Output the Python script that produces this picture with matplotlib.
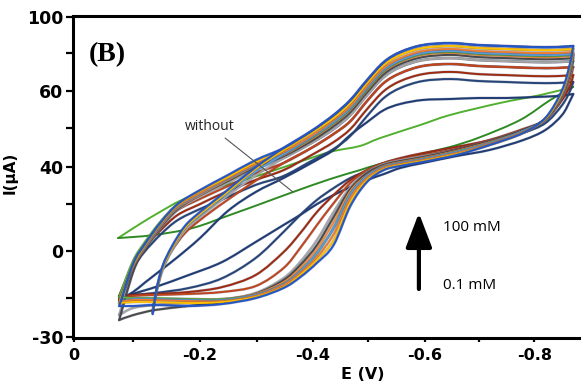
import matplotlib
matplotlib.use("Agg")
import matplotlib.pyplot as plt
from matplotlib.path import Path
from matplotlib.patches import PathPatch
import matplotlib.patheffects as pe

# ---------------- data ----------------
# potential grids (V)
E_up = [-0.055, -0.08, -0.10, -0.13, -0.16, -0.20, -0.25, -0.30, -0.35, -0.40, -0.44,
        -0.47, -0.50, -0.53, -0.56, -0.60, -0.65, -0.70, -0.75, -0.80, -0.84, -0.87]
E_low = [-0.87, -0.865, -0.85, -0.82, -0.78, -0.72, -0.66, -0.60, -0.56, -0.53, -0.50,
         -0.47, -0.44, -0.41, -0.38, -0.35, -0.30, -0.24, -0.18, -0.12, -0.08, -0.055]
E_init = [-0.115, -0.122, -0.133, -0.15, -0.173, -0.20, -0.24, -0.30, -0.35]

# currents (uA): forward / backward sweep for each concentration (0.1 mM ... 100 mM)
up_c1 = [-15.0, -11.7, -8.1, -2.8, 2.5, 10.2, 21.2, 28.9, 34.6, 40.7, 46.0, 52.1, 57.3, 62.2, 64.7, 66.3, 66.7, 67.1, 67.1, 67.5, 67.9, 68.7]
low_c1 = [68.7, 66.3, 60.2, 54.1, 50.0, 46.0, 43.5, 40.7, 38.7, 36.2, 33.8, 30.9, 27.7, 24.0, 19.6, 15.5, 8.6, 0.5, -4.8, -9.7, -12.5, -15.0]
up_c2 = [-13.7, -2.0, 4.5, 11.8, 17.5, 22.0, 26.9, 31.8, 35.4, 41.5, 46.4, 51.7, 59.8, 67.1, 71.2, 74.0, 74.8, 74.0, 73.6, 73.2, 73.2, 73.6]
low_c2 = [73.6, 70.3, 64.2, 56.9, 52.9, 48.4, 45.6, 43.1, 41.5, 39.9, 37.4, 34.6, 30.5, 25.7, 19.6, 12.7, 2.1, -6.1, -10.1, -12.1, -12.9, -13.7]
up_c3 = [-13.3, -0.3, 6.2, 13.5, 19.6, 24.0, 29.3, 33.8, 37.8, 43.9, 49.2, 54.5, 62.6, 69.9, 74.0, 76.8, 77.7, 76.8, 76.4, 76.0, 76.0, 76.4]
low_c3 = [76.4, 72.4, 66.3, 58.2, 54.1, 50.0, 47.2, 44.7, 42.7, 40.7, 37.8, 33.8, 27.7, 20.8, 12.2, 4.5, -4.8, -9.7, -11.7, -12.5, -12.9, -13.3]
up_c4 = [-14.2, 0.5, 7.4, 15.5, 21.6, 26.1, 31.3, 36.6, 40.7, 46.8, 52.5, 57.7, 65.9, 73.2, 77.2, 80.1, 80.9, 80.1, 79.7, 79.3, 79.3, 79.7]
low_c4 = [79.7, 75.2, 67.1, 58.2, 54.5, 50.0, 46.4, 43.9, 42.3, 40.7, 37.8, 32.6, 24.4, 15.5, 6.2, -2.0, -9.3, -11.7, -12.5, -12.9, -13.3, -14.2]
init_c4 = [-19.4, -10.9, -2.0, 5.3, 12.2, 17.5, 24.2, 33.5, 40.7]
up_c5 = [-21.1, -2.8, 5.3, 14.3, 21.6, 26.9, 32.6, 38.2, 42.7, 48.8, 54.5, 60.2, 68.3, 75.6, 79.7, 82.5, 83.3, 82.5, 82.1, 81.7, 81.7, 82.1]
low_c5 = [82.1, 76.8, 67.5, 58.2, 54.1, 49.6, 46.0, 43.5, 41.9, 40.3, 37.0, 30.9, 20.8, 9.4, 0.5, -6.1, -12.1, -15.0, -16.2, -17.0, -18.2, -21.1]
init_c5 = [-20.3, -11.7, -2.8, 5.3, 13.1, 18.8, 25.8, 35.6, 42.7]
up_c6 = [-23.1, -3.6, 5.3, 14.7, 22.0, 27.7, 33.4, 39.1, 43.5, 49.6, 55.7, 61.4, 69.5, 76.8, 80.9, 83.7, 84.6, 83.7, 83.3, 82.9, 82.9, 83.3]
low_c6 = [83.3, 77.7, 67.9, 58.6, 54.1, 49.6, 46.0, 43.1, 41.5, 39.9, 36.6, 30.1, 18.8, 7.4, -0.8, -6.9, -12.5, -15.8, -17.4, -19.0, -21.1, -23.1]
up_c7 = [-16.2, -1.6, 5.8, 15.1, 22.4, 27.7, 33.8, 39.5, 43.9, 50.4, 56.5, 62.2, 70.3, 77.7, 81.7, 84.6, 85.4, 84.6, 84.2, 83.7, 83.7, 84.2]
low_c7 = [84.2, 78.5, 68.3, 58.6, 53.7, 49.2, 45.6, 42.7, 41.1, 39.5, 35.8, 29.3, 16.7, 5.8, -2.0, -7.7, -12.5, -14.6, -14.6, -14.6, -15.0, -16.2]
up_c8 = [-13.7, 0.9, 8.2, 17.1, 24.0, 29.3, 34.6, 39.9, 44.3, 50.8, 56.9, 62.6, 70.7, 78.1, 82.1, 85.0, 85.8, 85.0, 84.6, 84.2, 84.2, 84.6]
low_c8 = [84.6, 78.9, 68.7, 58.6, 53.7, 48.8, 45.2, 42.3, 40.7, 39.1, 35.4, 28.1, 14.3, 4.1, -3.2, -8.5, -12.9, -14.6, -14.6, -14.2, -14.2, -13.7]
up_c9 = [-15.8, -1.2, 6.2, 15.5, 22.8, 28.1, 34.2, 39.9, 44.3, 51.2, 57.3, 63.0, 71.2, 78.5, 82.5, 85.4, 86.2, 85.4, 85.0, 84.6, 84.6, 85.0]
low_c9 = [85.0, 79.3, 68.7, 58.6, 53.7, 48.8, 45.2, 42.3, 40.7, 39.1, 35.4, 28.1, 14.3, 4.1, -3.2, -8.5, -12.9, -15.0, -15.0, -14.6, -14.6, -15.8]
init_c9 = [-19.8, -10.5, -1.2, 6.6, 14.3, 19.6, 26.8, 37.2, 44.3]
up_c10 = [-15.8, -1.2, 6.6, 15.9, 23.2, 28.5, 34.6, 40.3, 45.2, 51.7, 58.2, 63.8, 72.0, 79.3, 83.3, 86.2, 87.0, 86.2, 85.8, 85.4, 85.4, 85.8]
low_c10 = [85.8, 80.1, 69.1, 58.6, 53.3, 48.4, 44.7, 41.9, 40.3, 38.7, 34.6, 26.5, 11.8, 2.5, -4.0, -8.9, -13.3, -15.4, -15.4, -15.0, -15.0, -15.8]
up_c11 = [-16.2, -0.8, 7.0, 16.3, 23.6, 29.3, 35.0, 41.1, 46.0, 52.9, 59.0, 65.1, 73.2, 80.5, 84.6, 87.4, 88.2, 87.4, 87.0, 86.6, 86.6, 87.0]
low_c11 = [87.0, 80.9, 69.5, 58.6, 52.9, 48.0, 44.3, 41.5, 39.9, 38.2, 33.8, 24.9, 9.4, 1.3, -4.8, -9.7, -13.7, -15.8, -16.2, -15.8, -15.8, -16.2]
init_c11 = [-20.3, -11.3, -2.0, 6.2, 14.3, 20.0, 27.2, 38.3, 46.0]
up_c12 = [-17.4, -0.3, 7.4, 16.7, 24.0, 29.7, 35.8, 41.9, 46.8, 53.7, 60.2, 66.3, 74.4, 81.7, 85.8, 88.6, 89.4, 88.6, 88.2, 87.8, 87.8, 88.2]
low_c12 = [88.2, 81.7, 70.3, 59.0, 52.9, 48.0, 43.9, 41.1, 39.5, 37.8, 33.0, 23.2, 7.4, 0.1, -5.7, -10.1, -14.2, -16.6, -17.4, -17.0, -17.4, -17.4]
init_c12 = [-20.7, -10.9, -1.2, 7.0, 15.1, 20.8, 28.0, 39.0, 46.8]

# blank electrode ("without")
E_wo_up = [-0.053, -0.092, -0.128, -0.164, -0.205, -0.254, -0.308, -0.367, -0.434, -0.487, -0.523, -0.595, -0.649, -0.739, -0.811, -0.870]
I_wo_up = [10.2, 15.9, 20.8, 25.3, 28.9, 32.2, 35.8, 40.3, 45.2, 47.6, 50.8, 56.1, 60.2, 65.1, 68.3, 71.6]
E_wo_low = [-0.053, -0.116, -0.187, -0.254, -0.308, -0.367, -0.434, -0.487, -0.523, -0.595, -0.649, -0.703, -0.775, -0.829, -0.870]
I_wo_low = [10.2, 11.4, 14.3, 19.6, 24.0, 28.9, 34.2, 37.8, 40.3, 44.3, 47.2, 51.2, 58.2, 66.3, 71.6]

colors = ["#1f3b73", "#264478", "#9e2a10", "#c0441c", "#a5a5a5", "#4a4a4a",
          "#f08a3c", "#62b23a", "#5b9bd5", "#ed7d31", "#ffc000", "#2456c8"]
ups = [up_c1, up_c2, up_c3, up_c4, up_c5, up_c6, up_c7, up_c8, up_c9, up_c10, up_c11, up_c12]
lows = [low_c1, low_c2, low_c3, low_c4, low_c5, low_c6, low_c7, low_c8, low_c9, low_c10, low_c11, low_c12]
inits = [None, None, None, init_c4, init_c5, None, None, None, init_c9, None, init_c11, init_c12]

y_major = [100, 69.9, 39.1, 4.9, -30]
y_major_lbl = ["100", "60", "40", "0", "-30"]
y_minor = [85.4, 54.9, 24.0, -14.2]
x_major = [0.027, -0.2, -0.403, -0.604, -0.8]
x_major_lbl = ["0", "-0.2", "-0.4", "-0.6", "-0.8"]
x_minor = [-0.08, -0.302, -0.502, -0.701]


# smoothed line (Excel-like "smoothed line"): Catmull-Rom through the data points
def smooth(ax, xs, ys, color, lw=1.5, z=3, edge=True):
    pts = list(zip(xs, ys))
    n = len(pts)
    verts = [pts[0]]
    codes = [Path.MOVETO]
    for i in range(n - 1):
        p0 = pts[i - 1] if i > 0 else pts[i]
        p1, p2 = pts[i], pts[i + 1]
        p3 = pts[i + 2] if i + 2 < n else pts[i + 1]
        c1 = (p1[0] + (p2[0] - p0[0]) / 6.0, p1[1] + (p2[1] - p0[1]) / 6.0)
        c2 = (p2[0] - (p3[0] - p1[0]) / 6.0, p2[1] - (p3[1] - p1[1]) / 6.0)
        verts += [c1, c2, p2]
        codes += [Path.CURVE4] * 3
    patch = PathPatch(Path(verts, codes), fill=False, edgecolor=color, lw=lw,
                      capstyle="round", joinstyle="round", zorder=z,
                      transform=ax.transData)
    if edge:
        patch.set_path_effects([pe.Stroke(linewidth=lw + 0.6, foreground="#1c2b55", alpha=0.3),
                                pe.Normal()])
    ax.add_patch(patch)


# ---------------- figure ----------------
fig = plt.figure(figsize=(5.81, 3.82), dpi=100)
ax = fig.add_axes([0.1256, 0.1152, 0.8744, 0.8428])

smooth(ax, E_wo_up, I_wo_up, "#52b030", lw=1.4, z=2, edge=False)
smooth(ax, E_wo_low, I_wo_low, "#2e8a22", lw=1.4, z=2, edge=False)

for col, up, low, init in zip(colors, ups, lows, inits):
    smooth(ax, E_up, up, col, lw=1.4)
    smooth(ax, E_low, low, col, lw=1.4)
    if init is not None:
        smooth(ax, E_init + E_up[9:], init + up[9:], col, lw=1.4)

ax.set_xlim(0.028, -0.884)
ax.set_ylim(-30.4, 100.4)

for s in ("left", "top", "bottom"):
    ax.spines[s].set_linewidth(2.2)
ax.spines["right"].set_visible(False)

ax.set_xticks(x_major)
ax.set_xticklabels(x_major_lbl)
ax.set_xticks(x_minor, minor=True)
ax.set_yticks(y_major)
ax.set_yticklabels(y_major_lbl)
ax.set_yticks(y_minor, minor=True)

ax.tick_params(axis="y", which="both", direction="out", length=5, width=1.6, pad=2)
ax.tick_params(axis="x", which="both", direction="out", length=3, width=1.6, pad=4)
for lbl in ax.get_yticklabels():
    lbl.set_fontweight("bold"); lbl.set_fontsize(12.5); lbl.set_family("DejaVu Sans")
for lbl in ax.get_xticklabels():
    lbl.set_fontweight("bold"); lbl.set_fontsize(11.5); lbl.set_family("DejaVu Sans")

ax.set_xlabel("E (V)", fontsize=11.5, fontweight="bold")
ax.xaxis.set_label_coords(0.571, -0.09)
ax.set_ylabel("I(μA)", fontsize=11, fontweight="bold")
ax.yaxis.set_label_coords(-0.108, 0.514)

ax.text(-0.001, 84.6, "(B)", family="Liberation Serif", fontweight="bold", fontsize=20,
        ha="left", va="center")

ax.annotate("without", xy=(-0.367, 28.9), xytext=(-0.218, 55.7), fontsize=10,
            family="Open Sans", ha="center", va="center", color="#222222",
            arrowprops=dict(arrowstyle="-", color="#555555", lw=0.8, shrinkA=2, shrinkB=0))

ax.annotate("", xy=(-0.593, 20.4), xytext=(-0.593, -10.5),
            arrowprops=dict(arrowstyle="-|>,head_length=1.05,head_width=0.4",
                            mutation_scale=20, lw=3, color="black", shrinkA=0, shrinkB=0))
ax.text(-0.637, 14.3, "100 mM", fontsize=11, family="Open Sans", ha="left", va="center")
ax.text(-0.637, -8.9, "0.1 mM", fontsize=11, family="Open Sans", ha="left", va="center")

fig.savefig("out.png", dpi=100)
